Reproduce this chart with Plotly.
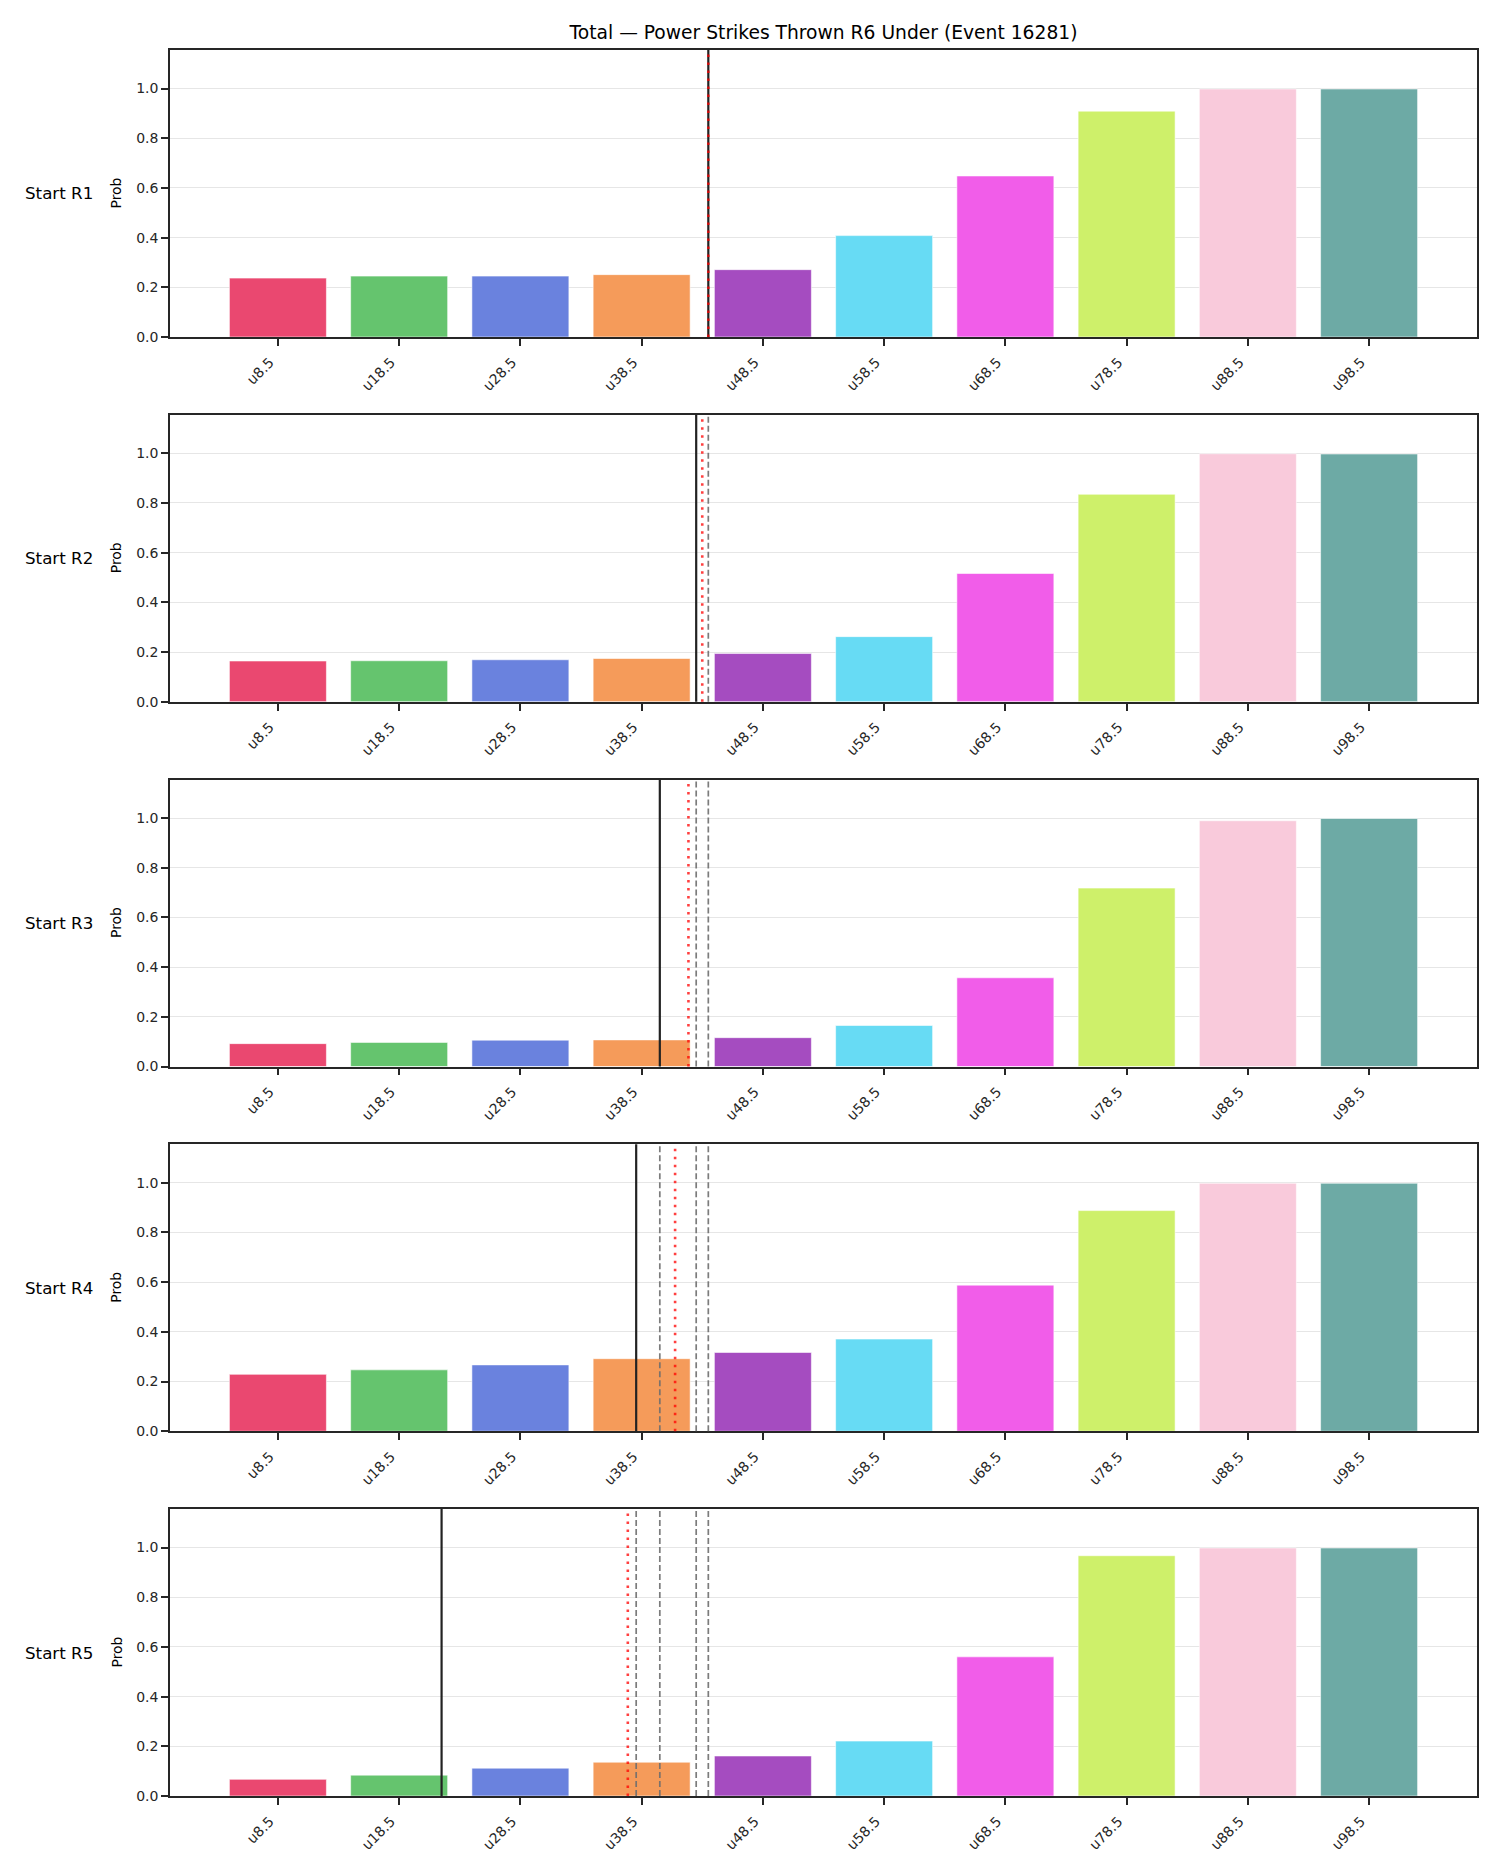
import plotly.graph_objects as go

# ---------------- data ----------------
categories = ["u8.5", "u18.5", "u28.5", "u38.5", "u48.5",
              "u58.5", "u68.5", "u78.5", "u88.5", "u98.5"]
row_labels = ["Start R1", "Start R2", "Start R3", "Start R4", "Start R5"]

probs_r1 = [0.237, 0.245, 0.245, 0.251, 0.271, 0.408, 0.648, 0.909, 0.998, 0.998]
probs_r2 = [0.164, 0.165, 0.169, 0.174, 0.194, 0.262, 0.516, 0.835, 0.998, 0.997]
probs_r3 = [0.092, 0.097, 0.106, 0.107, 0.116, 0.165, 0.357, 0.718, 0.989, 0.998]
probs_r4 = [0.229, 0.247, 0.267, 0.292, 0.317, 0.371, 0.588, 0.888, 0.998, 0.998]
probs_r5 = [0.067, 0.084, 0.112, 0.136, 0.161, 0.221, 0.560, 0.967, 0.998, 0.998]

# vertical reference lines (in category-index units)
round_lines = [3.55, 3.45, 3.15, 2.955, 1.35]        # solid black, per round
running_avg_lines = [3.55, 3.50, 3.386, 3.276, 2.886]  # red dotted, per round

bar_colors = ["#EA4870", "#65C46E", "#6A82DE", "#F59B5A", "#A54CC0",
              "#67DBF4", "#F15DE9", "#CEF06A", "#F9CADB", "#6DAAA5"]

title_text = "Total \u2014 Power Strikes Thrown R6 Under (Event 16281)"
y_ticks = [0.0, 0.2, 0.4, 0.6, 0.8, 1.0]

# ---------------- layout geometry ----------------
W, H = 1500, 1875
L, R, T, B = 170, 23, 50, 79
n = 5
ph = 287.0
plot_h = H - T - B
plot_w = W - L - R
gap = (plot_h - n * ph) / (n - 1)

FONT = "DejaVu Sans"
DARK = "#262626"

all_probs = [probs_r1, probs_r2, probs_r3, probs_r4, probs_r5]
x_idx = list(range(len(categories)))

fig = go.Figure()
layout = {}
shapes = []
annotations = []

for i, probs in enumerate(all_probs):
    ax = "" if i == 0 else str(i + 1)
    fig.add_trace(go.Bar(
        x=x_idx, y=probs, width=0.8,
        marker=dict(color=bar_colors, line=dict(color="rgba(255,255,255,0.8)", width=0.7)),
        xaxis="x" + ax, yaxis="y" + ax, showlegend=False, hoverinfo="skip",
    ))
    top = i * (ph + gap)
    y1 = 1 - top / plot_h
    y0 = 1 - (top + ph) / plot_h
    layout["xaxis" + ax] = dict(
        domain=[0, 1], anchor="y" + ax, range=[-0.89, 9.89],
        tickmode="array", tickvals=x_idx, ticktext=categories, tickangle=-45,
        ticks="outside", ticklen=7, tickwidth=1.5, tickcolor=DARK,
        ticklabelshift=-8, ticklabelstandoff=3,
        showline=True, mirror=True, linecolor=DARK, linewidth=1.5,
        showgrid=False, zeroline=False,
        tickfont=dict(family=FONT, size=14, color=DARK),
    )
    layout["yaxis" + ax] = dict(
        domain=[max(y0, 0), min(y1, 1)], anchor="x" + ax, range=[0, 1.155],
        tickmode="array", tickvals=y_ticks, tickformat=".1f",
        ticks="outside", ticklen=7, tickwidth=1.5, tickcolor=DARK,
        showline=True, mirror=True, linecolor=DARK, linewidth=1.5,
        showgrid=True, gridcolor="#e6e6e6", gridwidth=1, zeroline=False,
        tickfont=dict(family=FONT, size=14, color=DARK),
    )
    # previous rounds: gray dashed
    for j in range(i):
        shapes.append(dict(type="line", xref="x" + ax, yref="y" + ax + " domain",
                           x0=round_lines[j], x1=round_lines[j], y0=0, y1=1,
                           line=dict(color="rgba(110,110,110,0.9)", width=1.7, dash="6px,3px")))
    # current round: black solid
    shapes.append(dict(type="line", xref="x" + ax, yref="y" + ax + " domain",
                       x0=round_lines[i], x1=round_lines[i], y0=0, y1=1,
                       line=dict(color="#222222", width=2.2)))
    # running average: red dotted
    shapes.append(dict(type="line", xref="x" + ax, yref="y" + ax + " domain",
                       x0=running_avg_lines[i], x1=running_avg_lines[i], y0=0, y1=1,
                       line=dict(color="rgba(255,0,0,0.75)", width=2.6, dash="2.6px,5.4px")))
    yc = (y0 + y1) / 2
    annotations.append(dict(text=row_labels[i], xref="paper", yref="paper",
                            x=(23 - L) / plot_w, y=yc, xanchor="left", yanchor="middle",
                            showarrow=False, font=dict(family=FONT, size=16.7, color="black")))
    annotations.append(dict(text="Prob", xref="paper", yref="paper",
                            x=(116 - L) / plot_w, y=yc, xanchor="center", yanchor="middle",
                            textangle=-90, showarrow=False,
                            font=dict(family=FONT, size=13.9, color="black")))

layout.update(dict(
    width=W, height=H,
    margin=dict(l=L, r=R, t=T, b=B, autoexpand=False),
    paper_bgcolor="white", plot_bgcolor="white",
    bargap=0.2,
    title=dict(text=title_text, x=(L + plot_w / 2) / W, xanchor="center",
               y=1 - 32 / H, yanchor="middle", xref="container", yref="container",
               font=dict(family=FONT, size=18.7, color="black")),
    shapes=shapes, annotations=annotations,
    font=dict(family=FONT),
))
fig.update_layout(**layout)
fig.write_html("out.html")
